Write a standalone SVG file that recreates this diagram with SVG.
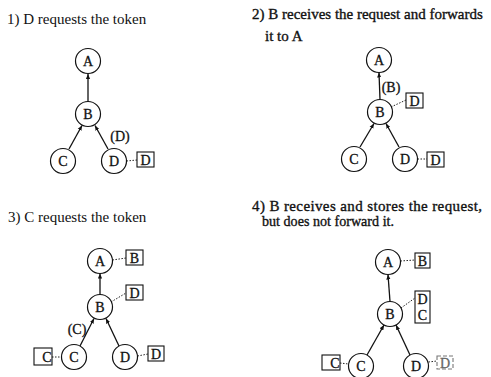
<svg xmlns="http://www.w3.org/2000/svg" width="491" height="377" viewBox="0 0 491 377">
  <style>
    .title { font-family: "Liberation Serif", "Times New Roman", serif; font-size: 15px; fill: #111; }
    .heavy { stroke: #111; stroke-width: 0.35; }
    .node circle { fill: #fff; stroke: #111; stroke-width: 1.2; }
    .node text, .box text, .lbl { font-family: "Liberation Serif", "Times New Roman", serif; font-size: 14px; fill: #111; stroke: #111; stroke-width: 0.3; text-anchor: middle; }
    .box rect { fill: #fff; stroke: #111; stroke-width: 1.1; }
    .edge { stroke: #111; stroke-width: 1.3; fill: none; marker-end: url(#head); }
    .dash { stroke: #222; stroke-width: 1; fill: none; stroke-dasharray: 1.5 1.5; }
  </style>
  <defs>
    <marker id="head" viewBox="0 0 6 6" refX="6" refY="3" markerWidth="5" markerHeight="5" orient="auto" markerUnits="userSpaceOnUse">
      <path d="M0,0.5 L6,3 L0,5.5 Z" fill="#111"/>
    </marker>
  </defs>
  <rect width="491" height="377" fill="#fff"/>

  <!-- titles -->
  <g id="titles">
    <text class="title" x="7" y="24">1) D requests the token</text>
    <text class="title heavy" x="252" y="19">2) B receives the request and forwards</text>
    <text class="title heavy" x="265" y="41">it to A</text>
    <text class="title" x="8" y="222">3) C requests the token</text>
    <text class="title heavy" x="252" y="211" textLength="230" lengthAdjust="spacing">4) B receives and stores the request,</text>
    <text class="title heavy" x="262" y="226" textLength="132" lengthAdjust="spacingAndGlyphs">but does not forward it.</text>
  </g>

  <!-- connectors -->
  <g id="connectors">
    <!-- step 1 -->
    <line class="edge" x1="88" y1="101.5" x2="88" y2="74"/>
    <line class="edge" x1="69" y1="149" x2="82" y2="125.5"/>
    <line class="edge" x1="108" y1="149" x2="95" y2="125.5"/>
    <line class="dash" x1="126.5" y1="161" x2="137" y2="160"/>
    <!-- step 2 -->
    <line class="edge" x1="380" y1="99.5" x2="379" y2="72.5"/>
    <line class="edge" x1="360" y1="147" x2="374" y2="123.5"/>
    <line class="edge" x1="399" y1="147" x2="386" y2="123.5"/>
    <line class="dash" x1="391" y1="107" x2="406" y2="100"/>
    <line class="dash" x1="417.5" y1="159" x2="427" y2="159"/>
    <!-- step 3 -->
    <line class="edge" x1="100" y1="294.5" x2="100" y2="273.5"/>
    <line class="edge" x1="80" y1="346" x2="94" y2="318.5"/>
    <line class="edge" x1="119" y1="346" x2="106" y2="318.5"/>
    <line class="dash" x1="112.5" y1="260" x2="126" y2="258"/>
    <line class="dash" x1="111" y1="302" x2="126" y2="293"/>
    <line class="dash" x1="52" y1="357" x2="61.5" y2="357"/>
    <line class="dash" x1="137.5" y1="356" x2="148" y2="354"/>
    <!-- step 4 -->
    <line class="edge" x1="390" y1="301.5" x2="388" y2="274.5"/>
    <line class="edge" x1="367" y1="355" x2="384" y2="325"/>
    <line class="edge" x1="410" y1="355" x2="396" y2="325"/>
    <line class="dash" x1="400.5" y1="261" x2="415" y2="260"/>
    <line class="dash" x1="401" y1="308" x2="415" y2="298"/>
    <line class="dash" x1="340" y1="363" x2="348.5" y2="364"/>
    <line class="dash" x1="428.5" y1="362" x2="437" y2="361"/>
  </g>

  <!-- edge labels -->
  <g id="labels">
    <text class="lbl" x="120" y="141">(D)</text>
    <text class="lbl" x="391" y="92">(B)</text>
    <text class="lbl" x="77" y="334">(C)</text>
  </g>

  <!-- step 1 nodes -->
  <g id="s1-A" class="node"><circle cx="88" cy="61" r="12.5"/><text x="88" y="66">A</text></g>
  <g id="s1-B" class="node"><circle cx="88" cy="114" r="12.5"/><text x="88" y="119">B</text></g>
  <g id="s1-C" class="node"><circle cx="63" cy="161" r="12.5"/><text x="63" y="166">C</text></g>
  <g id="s1-D" class="node"><circle cx="114" cy="161" r="12.5"/><text x="114" y="166">D</text></g>
  <g id="s1-qD" class="box"><rect x="137" y="152" width="17" height="15"/><text x="145.5" y="164.5">D</text></g>

  <!-- step 2 nodes -->
  <g id="s2-A" class="node"><circle cx="379" cy="60" r="12.5"/><text x="379" y="65">A</text></g>
  <g id="s2-B" class="node"><circle cx="380" cy="112" r="12.5"/><text x="380" y="117">B</text></g>
  <g id="s2-C" class="node"><circle cx="354" cy="159" r="12.5"/><text x="354" y="164">C</text></g>
  <g id="s2-D" class="node"><circle cx="405" cy="159" r="12.5"/><text x="405" y="164">D</text></g>
  <g id="s2-qB" class="box"><rect x="406" y="93" width="17" height="15"/><text x="414.5" y="105.5">D</text></g>
  <g id="s2-qD" class="box"><rect x="427" y="152" width="17" height="15"/><text x="435.5" y="164.5">D</text></g>

  <!-- step 3 nodes -->
  <g id="s3-A" class="node"><circle cx="100" cy="261" r="12.5"/><text x="100" y="266">A</text></g>
  <g id="s3-B" class="node"><circle cx="100" cy="307" r="12.5"/><text x="100" y="312">B</text></g>
  <g id="s3-C" class="node"><circle cx="74" cy="357" r="12.5"/><text x="74" y="362">C</text></g>
  <g id="s3-D" class="node"><circle cx="125" cy="357" r="12.5"/><text x="125" y="362">D</text></g>
  <g id="s3-qA" class="box"><rect x="126" y="250" width="17" height="15"/><text x="134.5" y="262.5">B</text></g>
  <g id="s3-qB" class="box"><rect x="126" y="285" width="17" height="15"/><text x="134.5" y="297.5">D</text></g>
  <g id="s3-qC" class="box"><rect x="34" y="348" width="18" height="17"/><text x="47" y="361.5">C</text></g>
  <g id="s3-qD" class="box"><rect x="148" y="346" width="16" height="15"/><text x="156" y="358.5">D</text></g>

  <!-- step 4 nodes -->
  <g id="s4-A" class="node"><circle cx="388" cy="262" r="12.5"/><text x="388" y="267">A</text></g>
  <g id="s4-B" class="node"><circle cx="390" cy="314" r="12.5"/><text x="390" y="319">B</text></g>
  <g id="s4-C" class="node"><circle cx="361" cy="366" r="12.5"/><text x="361" y="371">C</text></g>
  <g id="s4-D" class="node"><circle cx="416" cy="366" r="12.5"/><text x="416" y="371">D</text></g>
  <g id="s4-qA" class="box"><rect x="415" y="253" width="15" height="15"/><text x="422.5" y="265.5">B</text></g>
  <g id="s4-qB" class="box"><rect x="415" y="291" width="15" height="32"/><text x="422.5" y="304">D</text><text x="422.5" y="319.5">C</text></g>
  <g id="s4-qC" class="box"><rect x="322" y="355" width="18" height="15"/><text x="335" y="367.5">C</text></g>
  <g id="s4-qD" class="box"><rect x="437" y="356" width="16" height="13" style="stroke:#777;stroke-dasharray:4 2"/><text x="445" y="367.5" style="fill:#666;stroke:#666">D</text></g>
</svg>
